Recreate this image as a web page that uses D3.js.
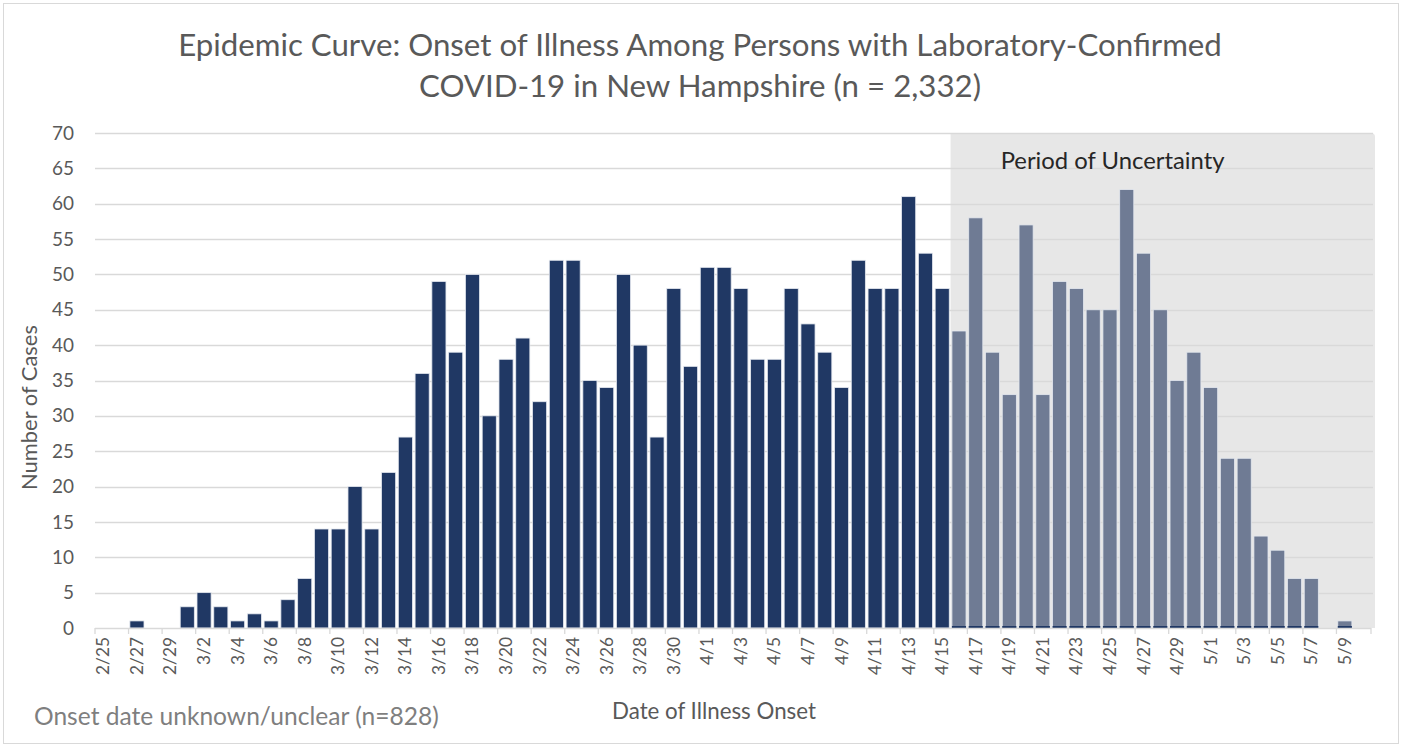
<!DOCTYPE html>
<html>
<head>
<meta charset="utf-8">
<script src="https://cdn.jsdelivr.net/npm/d3@7"></script>
<style>
  body { margin: 0; background: #fff; }
  svg text { font-family: Lato, "Open Sans", sans-serif; }
</style>
</head>
<body>
<div id="chart"></div>
<script>
// chart size
let width = 1402;
let height = 747;

// dates of onset, one bar per day (2/25 to 5/10)
let dates = ["2/25","2/26","2/27","2/28","2/29",
  "3/1","3/2","3/3","3/4","3/5","3/6","3/7","3/8","3/9","3/10",
  "3/11","3/12","3/13","3/14","3/15","3/16","3/17","3/18","3/19","3/20",
  "3/21","3/22","3/23","3/24","3/25","3/26","3/27","3/28","3/29","3/30","3/31",
  "4/1","4/2","4/3","4/4","4/5","4/6","4/7","4/8","4/9","4/10",
  "4/11","4/12","4/13","4/14","4/15","4/16","4/17","4/18","4/19","4/20",
  "4/21","4/22","4/23","4/24","4/25","4/26","4/27","4/28","4/29","4/30",
  "5/1","5/2","5/3","5/4","5/5","5/6","5/7","5/8","5/9","5/10"];

// number of cases per day
let cases = [0,0,1,0,0,
  3,5,3,1,2,1,4,7,14,14,
  20,14,22,27,36,49,39,50,30,38,
  41,32,52,52,35,34,50,40,27,48,37,
  51,51,48,38,38,48,43,39,34,52,
  48,48,61,53,48,42,58,39,33,57,
  33,49,48,45,45,62,53,45,35,39,
  34,24,24,13,11,7,7,0,1,0];

// first day of the period of uncertainty
let uncertainStart = "4/16";

let yTicks = d3.range(0, 71, 5);

let data = dates.map(function (d, i) { return {date: d, value: cases[i], idx: i}; });
let startIdx = dates.indexOf(uncertainStart);

let margin = {top: 133, right: 29, bottom: 119, left: 95};
let plotW = width - margin.left - margin.right;
let plotH = height - margin.top - margin.bottom;

// scale a text's font so that it takes the given width (Calibri is narrow)
function fitText(sel, size, target) {
    sel.style("font-size", size + "px");
    let w = sel.node().getComputedTextLength();
    let s = size * target / w;
    sel.style("font-size", s + "px");
    return s;
}

let svg = d3.select("#chart").append("svg")
    .attr("width", width)
    .attr("height", height);

// outer chart frame
svg.append("rect")
    .attr("x", 3.5).attr("y", 3.5)
    .attr("width", width - 7).attr("height", height - 7)
    .attr("fill", "#fff")
    .attr("stroke", "#d9d9d9")
    .attr("stroke-width", 1);

let x = d3.scaleBand()
    .domain(dates)
    .range([0, plotW - 3])
    .paddingInner(0.16)
    .paddingOuter(0.08);

let y = d3.scaleLinear()
    .domain([0, 70])
    .range([plotH, 0]);

let g = svg.append("g")
    .attr("transform", "translate(" + margin.left + "," + margin.top + ")");

// shaded uncertainty area
let step = x.step();
let shadeX = x(uncertainStart) - step * x.paddingInner() / 2;
g.append("path")
    .attr("d", function () {
        let x0 = shadeX, x1 = plotW + 2, y0 = 0, y1 = plotH, r = 4;
        return "M" + x0 + "," + y1 + "V" + y0 + "H" + (x1 - r) +
            "Q" + x1 + "," + y0 + " " + x1 + "," + (y0 + r) + "V" + y1 + "Z";
    })
    .attr("fill", "#e7e7e7");

// gridlines
g.append("g")
    .selectAll("line")
    .data(yTicks.filter(function (d) { return d > 0; }))
    .enter().append("line")
    .attr("x1", 0)
    .attr("x2", plotW)
    .attr("y1", function (d) { return Math.round(y(d)) + 0.5; })
    .attr("y2", function (d) { return Math.round(y(d)) + 0.5; })
    .attr("stroke", "#d9d9d9")
    .attr("stroke-width", 1.3);

// y axis
let yAxis = g.append("g")
    .call(d3.axisLeft(y).tickValues(yTicks).tickSize(0).tickPadding(21));
yAxis.select(".domain").remove();
let ySize = fitText(yAxis.selectAll("text").filter(function (d) { return d === 70; }), 16, 22);
yAxis.selectAll("text")
    .attr("fill", "#595959")
    .style("font-size", ySize + "px");

// bars
g.append("g")
    .selectAll("rect")
    .data(data.filter(function (d) { return d.value > 0; }))
    .enter().append("rect")
    .attr("x", function (d) { return x(d.date); })
    .attr("y", function (d) { return y(d.value); })
    .attr("width", x.bandwidth())
    .attr("height", function (d) { return plotH - y(d.value); })
    .attr("fill", function (d) { return d.idx >= startIdx ? "#6f7b94" : "#203864"; })
    .attr("stroke", "#e4e8ef")
    .attr("stroke-width", 0.8);

// thin dark strip at bottom of the uncertain bars
g.append("g")
    .selectAll("rect")
    .data(data.filter(function (d) { return d.value > 0 && d.idx >= startIdx; }))
    .enter().append("rect")
    .attr("x", function (d) { return x(d.date); })
    .attr("y", plotH - 2)
    .attr("width", x.bandwidth())
    .attr("height", 2)
    .attr("fill", "#203864");

// x axis baseline + ticks every two days
let xg = g.append("g").attr("transform", "translate(0," + plotH + ")");
xg.append("line")
    .attr("x1", 0).attr("x2", plotW - 2)
    .attr("y1", 0.5).attr("y2", 0.5)
    .attr("stroke", "#d9d9d9")
    .attr("stroke-width", 1.3);
let tickDates = dates.filter(function (d, i) { return i % 2 === 0; });
xg.selectAll(".tk")
    .data(tickDates.concat(["end"]))
    .enter().append("line")
    .attr("class", "tk")
    .attr("x1", function (d) { return d === "end" ? plotW - 2 : x(d) - step * x.paddingInner() / 2; })
    .attr("x2", function (d) { return d === "end" ? plotW - 2 : x(d) - step * x.paddingInner() / 2; })
    .attr("y1", 0).attr("y2", 6)
    .attr("stroke", "#d9d9d9")
    .attr("stroke-width", 1.3);

let xLabels = xg.selectAll(".lbl")
    .data(tickDates)
    .enter().append("text")
    .attr("class", "lbl")
    .attr("transform", function (d) {
        return "translate(" + (x(d) + x.bandwidth() / 2 + 6) + ",9) rotate(-90)";
    })
    .attr("text-anchor", "end")
    .attr("fill", "#595959")
    .text(function (d) { return d; });
let xSize = fitText(xLabels.filter(function (d) { return d === "2/25"; }), 15, 38);
xLabels.style("font-size", xSize + "px");

// period of uncertainty label
fitText(g.append("text")
    .attr("x", shadeX + 162)
    .attr("y", 36)
    .attr("text-anchor", "middle")
    .attr("fill", "#262626")
    .text("Period of Uncertainty"), 19, 224);

// title
let title = svg.append("text")
    .attr("text-anchor", "middle")
    .attr("fill", "#595959");
let t1 = title.append("tspan").attr("x", 700).attr("y", 56)
    .text("Epidemic Curve: Onset of Illness Among Persons with Laboratory-Confirmed");
title.append("tspan").attr("x", 700).attr("y", 97)
    .text("COVID-19 in New Hampshire (n = 2,332)");
title.style("font-size", "25px");
let tw = t1.node().getComputedTextLength();
title.style("font-size", (25 * 1044 / tw) + "px");

// axis titles
fitText(svg.append("text")
    .attr("transform", "translate(37," + (margin.top + plotH / 2 + 27) + ") rotate(-90)")
    .attr("text-anchor", "middle")
    .attr("fill", "#595959")
    .text("Number of Cases"), 18, 165);

fitText(svg.append("text")
    .attr("x", 714)
    .attr("y", 719)
    .attr("text-anchor", "middle")
    .attr("fill", "#595959")
    .text("Date of Illness Onset"), 18, 204);

fitText(svg.append("text")
    .attr("x", 34)
    .attr("y", 725)
    .attr("fill", "#7f7f7f")
    .text("Onset date unknown/unclear (n=828)"), 18, 405);
</script>
</body>
</html>
